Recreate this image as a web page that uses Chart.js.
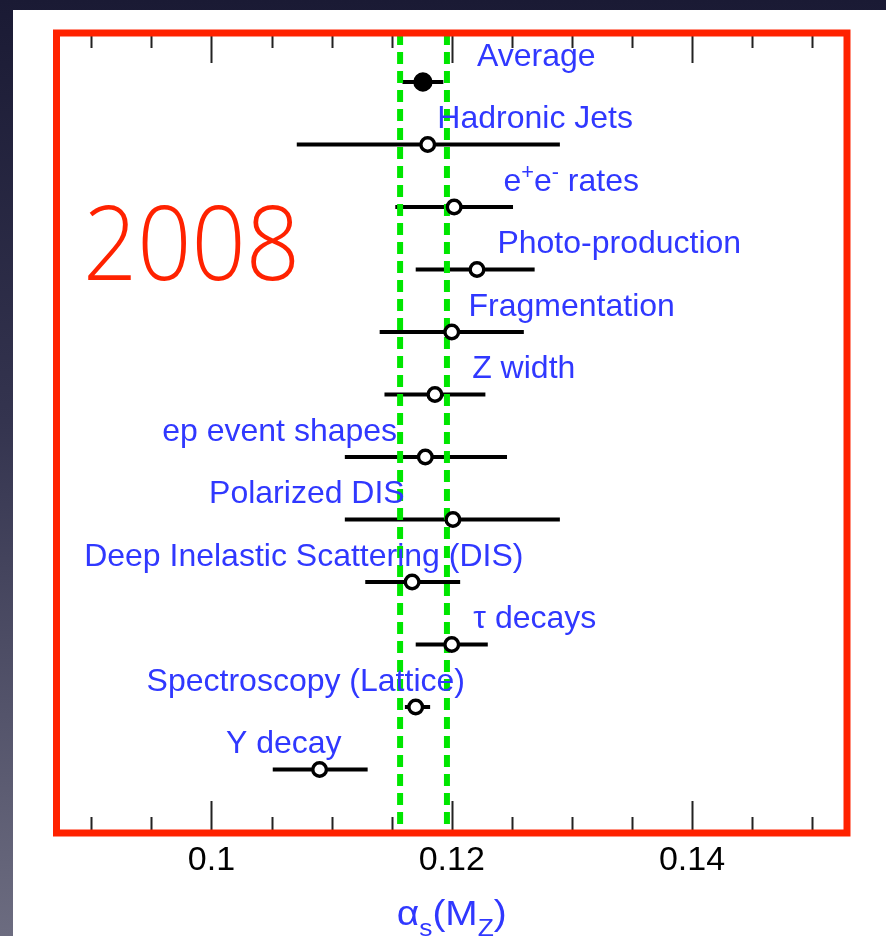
<!DOCTYPE html>
<html>
<head>
<meta charset="utf-8">
<script src="https://cdn.jsdelivr.net/npm/chart.js@4"></script>
<style>
  html, body { margin: 0; padding: 0; }
  body {
    width: 886px; height: 936px; overflow: hidden; position: relative;
    background: linear-gradient(180deg, #1a1a34 0%, #34344f 45%, #6c6c80 100%);
  }
  #sheet { position: absolute; left: 13px; top: 10px; width: 873px; height: 926px; background: #fff; }
  #alphas { position: absolute; left: 0; top: 0; }
</style>
</head>
<body>
<div id="sheet"></div>
<canvas id="alphas" width="886" height="936"></canvas>
<script>
// measurements of alpha_s(M_Z), top row is the world average
const categories = [
  'Average', 'Hadronic Jets', 'e^{+}e^{-} rates', 'Photo-production',
  'Fragmentation', 'Z width', 'ep event shapes', 'Polarized DIS',
  'Deep Inelastic Scattering (DIS)', 'τ decays', 'Spectroscopy (Lattice)', 'Υ decay'
];
const central = [0.1176, 0.1180, 0.1202, 0.1221, 0.1200, 0.1186, 0.1178, 0.1201, 0.1167, 0.1200, 0.1170, 0.1090];
const errLow  = [0.0017, 0.0109, 0.0049, 0.0051, 0.0060, 0.0042, 0.0067, 0.0090, 0.0039, 0.0030, 0.0009, 0.0039];
const errHigh = [0.0017, 0.0110, 0.0049, 0.0048, 0.0060, 0.0042, 0.0068, 0.0089, 0.0040, 0.0030, 0.0012, 0.0040];

// band drawn as the two dashed green lines
const bandLow = 0.1157;
const bandHigh = 0.1196;

// axis ticks
const majorTicks = [0.1, 0.12, 0.14];
const tickLabels = ['0.1', '0.12', '0.14'];
const minorStep = 0.005;
const xTitle = 'α_{s}(M_{Z})';
const yearText = '2008';

// where each label starts, in axis units
const labelAt = [0.1221, 0.1188, 0.1243, 0.1238, 0.1214, 0.1217, 0.0959, 0.0998, 0.0894, 0.1218, 0.0946, 0.1012];

const X_MIN = 0.0871, X_MAX = 0.1529;
const Y_MIN = -0.784, Y_MAX = 12.016;
const BLUE = '#3038ff';

const rows = categories.map((_, i) => i);

const errorBars = rows.map(i => ({
  type: 'scatter',
  data: [{ x: central[i] - errLow[i], y: i }, { x: central[i] + errHigh[i], y: i }],
  showLine: true,
  borderColor: '#000',
  borderWidth: 4,
  pointRadius: 0,
  order: 3
}));

const bandLines = [bandLow, bandHigh].map(v => ({
  type: 'scatter',
  data: [{ x: v, y: Y_MIN }, { x: v, y: Y_MAX }],
  showLine: true,
  borderColor: '#00e600',
  borderWidth: 6,
  borderDash: [12, 7],
  pointRadius: 0,
  order: 2
}));

const points = {
  type: 'scatter',
  data: rows.map(i => ({ x: central[i], y: i })),
  pointRadius: rows.map(i => i === 0 ? 8 : 6.8),
  pointBackgroundColor: rows.map(i => i === 0 ? '#000' : '#fff'),
  pointBorderColor: '#000',
  pointBorderWidth: 3.4,
  order: 1
};

// draws text with ^{..} and _{..} pieces, returns the width
function richText(ctx, str, x, y, size, family, measureOnly) {
  const parts = [];
  const re = /([\^_])\{([^}]*)\}|([^\^_]+)/g;
  let m;
  while ((m = re.exec(str)) !== null) {
    if (m[3]) parts.push({ t: m[3], k: 'n' });
    else parts.push({ t: m[2], k: m[1] === '^' ? 'sup' : 'sub' });
  }
  let cx = x;
  parts.forEach(p => {
    const s = p.k === 'n' ? size : size * 0.68;
    const dy = p.k === 'sup' ? -size * 0.36 : p.k === 'sub' ? size * 0.3 : 0;
    ctx.font = s + 'px ' + family;
    if (!measureOnly) ctx.fillText(p.t, cx, y + dy);
    cx += ctx.measureText(p.t).width;
  });
  return cx - x;
}

const decorations = {
  id: 'decorations',
  afterDatasetsDraw(chart) {
    const { ctx, chartArea: a, scales: { x, y } } = chart;
    ctx.save();

    // inward tick marks on the top and bottom edges
    ctx.strokeStyle = '#222';
    ctx.lineWidth = 2;
    const nMinor = Math.round((0.15 - 0.09) / minorStep);
    for (let k = 0; k <= nMinor; k++) {
      const v = 0.09 + k * minorStep;
      const major = majorTicks.some(t => Math.abs(t - v) < 1e-9);
      const px = Math.round(x.getPixelForValue(v)) + 0.5;
      ctx.beginPath();
      ctx.moveTo(px, a.top);
      ctx.lineTo(px, a.top + (major ? 30 : 15));
      ctx.moveTo(px, a.bottom);
      ctx.lineTo(px, a.bottom - (major ? 32 : 16));
      ctx.stroke();
    }

    // red frame
    ctx.strokeStyle = '#ff2200';
    ctx.lineWidth = 7;
    ctx.strokeRect(a.left, a.top, a.right - a.left, a.bottom - a.top);

    // tick labels
    ctx.fillStyle = '#000';
    ctx.font = '34px "Liberation Sans", Arial, sans-serif';
    ctx.textAlign = 'center';
    ctx.textBaseline = 'alphabetic';
    majorTicks.forEach((v, i) => ctx.fillText(tickLabels[i], x.getPixelForValue(v), 870));

    // axis title
    ctx.textAlign = 'left';
    ctx.fillStyle = BLUE;
    const fam = '"Liberation Sans", Arial, sans-serif';
    const w = richText(ctx, xTitle, 0, 0, 35, fam, true);
    ctx.save();
    ctx.translate((a.left + a.right) / 2 - 55, 925);
    ctx.scale(110 / w, 1);
    richText(ctx, xTitle, 0, 0, 35, fam, false);
    ctx.restore();

    // row labels
    rows.forEach(i => {
      richText(ctx, categories[i], x.getPixelForValue(labelAt[i]), y.getPixelForValue(i) - 16.5, 32, fam, false);
    });

    // year
    ctx.fillStyle = '#ff2200';
    ctx.font = '300 104px "Open Sans", "Noto Sans", sans-serif';
    const yw = ctx.measureText(yearText).width;
    ctx.translate(83, 280);
    ctx.scale(217 / yw, 1);
    ctx.fillText(yearText, 0, 0);
    ctx.restore();
  }
};

new Chart(document.getElementById('alphas'), {
  type: 'scatter',
  data: { datasets: [points, ...bandLines, ...errorBars] },
  options: {
    responsive: false,
    animation: false,
    layout: { padding: { left: 56.5, right: 39, top: 33, bottom: 103 } },
    plugins: { legend: { display: false }, tooltip: { enabled: false } },
    scales: {
      x: { type: 'linear', min: X_MIN, max: X_MAX, display: false },
      y: { type: 'linear', min: Y_MIN, max: Y_MAX, reverse: true, display: false }
    }
  },
  plugins: [decorations]
});
</script>
</body>
</html>
